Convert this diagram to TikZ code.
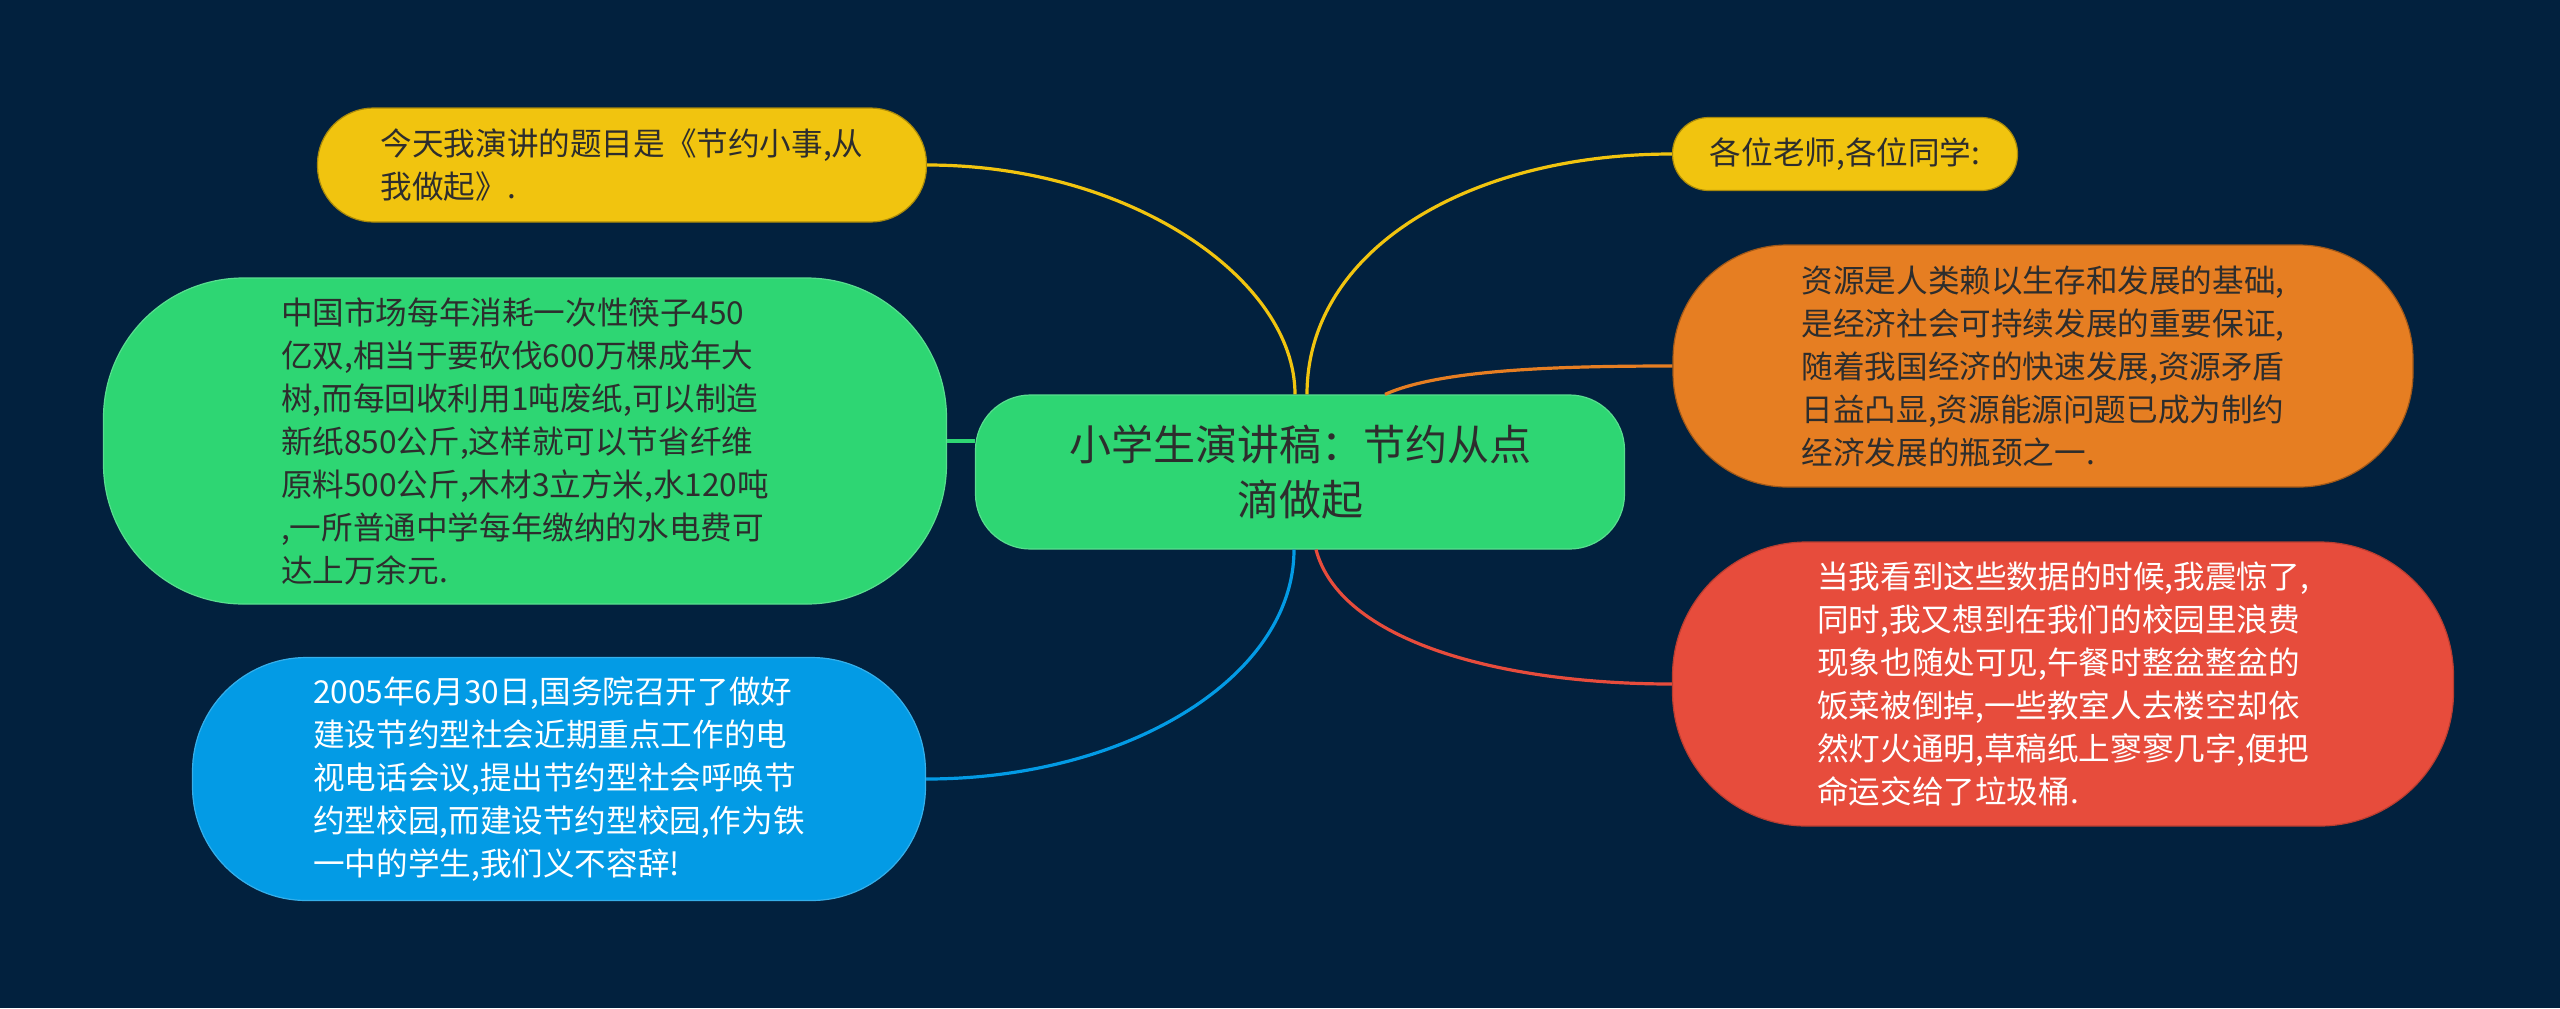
\documentclass[tikz,border=0pt]{standalone}
\usepackage{fontspec}
\setmainfont{Noto Sans CJK SC}
\definecolor{bgc}{RGB}{2,33,62}
\definecolor{yelc}{RGB}{241,196,15}
\definecolor{grnc}{RGB}{46,214,115}
\definecolor{orgc}{RGB}{230,126,34}
\definecolor{bluc}{RGB}{3,155,229}
\definecolor{redc}{RGB}{231,76,60}
\definecolor{txtc}{RGB}{45,45,45}

\begin{document}
\begin{tikzpicture}[x=0.5pt, y=-0.5pt,
  leaf/.style={draw, line width=0.6pt, inner sep=0pt, align=left, text=txtc, font=\fontsize{15.8}{21.5}\selectfont},
  link/.style={line width=1.6pt}]
\useasboundingbox (0,0) rectangle (2560,1008);
\fill[bgc] (0,0) rectangle (2560,1008);

\node[leaf, align=center, fill=grnc, draw=grnc!80!white, minimum width=324.5pt, minimum height=77pt, rounded corners=27.5pt, font=\fontsize{21}{27.5}\selectfont] (root) at (1300,472) {小学生演讲稿：节约从点\\滴做起};

\node[leaf, fill=yelc, draw=yelc!70!black, minimum width=304.5pt, minimum height=57pt, rounded corners=28pt] (title) at (622,165) {今天我演讲的题目是《节约小事,从\\我做起》.};
\node[leaf, fill=yelc, draw=yelc!70!black, minimum width=172.5pt, minimum height=36.5pt, rounded corners=18pt] (greet) at (1845,154) {各位老师,各位同学:};
\node[leaf, fill=grnc, draw=grnc!80!white, minimum width=421.5pt, minimum height=163pt, rounded corners=70pt] (facts) at (525,441) {中国市场每年消耗一次性筷子450\\亿双,相当于要砍伐600万棵成年大\\树,而每回收利用1吨废纸,可以制造\\新纸850公斤,这样就可以节省纤维\\原料500公斤,木材3立方米,水120吨\\,一所普通中学每年缴纳的水电费可\\达上万余元.};
\node[leaf, fill=orgc, draw=orgc!70!black, minimum width=370pt, minimum height=121pt, rounded corners=57pt] (res) at (2043,366) {资源是人类赖以生存和发展的基础,\\是经济社会可持续发展的重要保证,\\随着我国经济的快速发展,资源矛盾\\日益凸显,资源能源问题已成为制约\\经济发展的瓶颈之一.};
\node[leaf, text=white, fill=bluc, draw=bluc!80!white, minimum width=366.5pt, minimum height=121.5pt, rounded corners=57pt] (meet) at (559,779) {2005年6月30日,国务院召开了做好\\建设节约型社会近期重点工作的电\\视电话会议,提出节约型社会呼唤节\\约型校园,而建设节约型校园,作为铁\\一中的学生,我们义不容辞!};
\node[leaf, text=white, fill=redc, draw=redc!80!black, minimum width=390.5pt, minimum height=142pt, rounded corners=67pt] (waste) at (2063,684) {当我看到这些数据的时候,我震惊了,\\同时,我又想到在我们的校园里浪费\\现象也随处可见,午餐时整盆整盆的\\饭菜被倒掉,一些教室人去楼空却依\\然灯火通明,草稿纸上寥寥几字,便把\\命运交给了垃圾桶.};

\draw[link, yelc] (title.east) .. controls +(203,0) and +(0,-115) .. ([xshift=-2.5pt]root.north);
\draw[link, yelc] ([xshift=3.5pt]root.north) .. controls +(0,-145) and +(-203,0) .. (greet.west);
\draw[link, orgc] ([xshift=42.5pt]root.north) .. controls +(55,-25) and +(-113,0) .. (res.west);
\draw[link, grnc] (facts.east) -- (facts.east -| root.west);
\draw[link, bluc] ([xshift=-3pt]root.south) .. controls +(0,127) and +(202,0) .. (meet.east);
\draw[link, redc] ([xshift=8pt]root.south) .. controls +(24,91) and +(-173,0) .. (waste.west);
\end{tikzpicture}
\end{document}
